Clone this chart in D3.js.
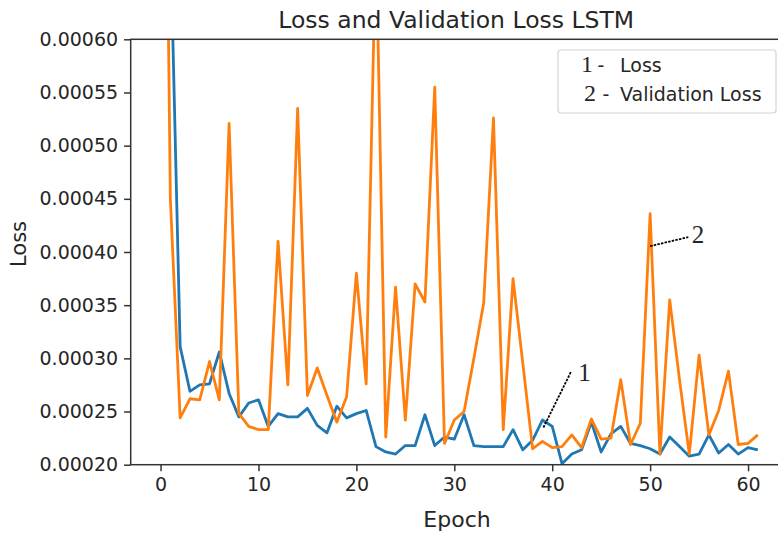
<!DOCTYPE html>
<html>
<head>
  <meta charset="utf-8">
  <title>Loss and Validation Loss LSTM</title>
  <script src="https://d3js.org/d3.v7.min.js"></script>
  <style>
    body { margin: 0; background: #fff; }
    text { font-family: "DejaVu Sans", sans-serif; fill: #262626; }
  </style>
</head>
<body>
<script>
// values, one per epoch (0..61)
var loss = [0.0021, 0.0007, 0.000311, 0.000269, 0.000275, 0.000276, 0.000306, 0.000267, 0.000245, 0.000258,
            0.000261, 0.000236, 0.000248, 0.000245, 0.000245, 0.000253, 0.000237, 0.00023, 0.000255, 0.000244,
            0.000248, 0.000251, 0.000217, 0.000212, 0.00021, 0.000218, 0.000218, 0.000247, 0.000218, 0.000226,
            0.000224, 0.000247, 0.000218, 0.000217, 0.000217, 0.000217, 0.000233, 0.000214, 0.000223, 0.000242,
            0.000236, 0.000201, 0.00021, 0.000214, 0.00024, 0.000212, 0.000229, 0.000236, 0.00022, 0.000218,
            0.000215, 0.00021, 0.000226, 0.000217, 0.000208, 0.00021, 0.000228, 0.000211, 0.000219, 0.00021,
            0.000216, 0.000214];
var valLoss = [0.00125, 0.00045, 0.000244, 0.000262, 0.000261, 0.000297, 0.000261, 0.000521, 0.000248, 0.000236,
               0.000233, 0.000233, 0.00041, 0.000275, 0.000535, 0.000265, 0.000291, 0.000265, 0.00024, 0.000264,
               0.00038, 0.000276, 0.0007, 0.000226, 0.000367, 0.000242, 0.00037, 0.000353, 0.000555, 0.00022,
               0.000242, 0.00025, 0.0003, 0.000352, 0.000526, 0.000233, 0.000375, 0.000295, 0.000215, 0.000222,
               0.000216, 0.000217, 0.000228, 0.000216, 0.000243, 0.000224, 0.000225, 0.00028, 0.000219, 0.000239,
               0.000436, 0.00021, 0.000355, 0.00028, 0.00021, 0.000303, 0.000228, 0.000251, 0.000288, 0.000219,
               0.00022, 0.000228];

var xTicks = [0, 10, 20, 30, 40, 50, 60];
var yTicks = [0.0002, 0.00025, 0.0003, 0.00035, 0.0004, 0.00045, 0.0005, 0.00055, 0.0006];
var legendNums = ["1", "2"];
var legendLabels = ["Loss", "Validation Loss"];
// callouts: point on the line, end of the dashed leader, number label (data coords)
var callouts = [
  { num: "1", from: [39.1, 0.000235], to: [41.9, 0.000287], text: [43.3, 0.000279] },
  { num: "2", from: [50.0, 0.0004055], to: [53.9, 0.000414], text: [54.9, 0.000408] }
];

var W = 778, H = 535;
var pLeft = 130.7, pRight = 787.7, pTop = 39.3, pBottom = 464.7;

var svg = d3.select("body").append("svg")
    .attr("width", W)
    .attr("height", H);

// matplotlib style 5% margins on x
var x = d3.scaleLinear().domain([-3.05, 64.05]).range([pLeft, pRight]);
var y = d3.scaleLinear().domain([0.0002, 0.0006]).range([pBottom, pTop]);

svg.append("clipPath").attr("id", "plot")
  .append("rect")
    .attr("x", pLeft).attr("y", pTop)
    .attr("width", pRight - pLeft).attr("height", pBottom - pTop);

var line = d3.line()
    .x(function(d, i) { return x(i); })
    .y(function(d) { return y(d); });

var g = svg.append("g").attr("clip-path", "url(#plot)");
g.append("path")
    .attr("d", line(loss))
    .attr("fill", "none")
    .attr("stroke", "#1f77b4")
    .attr("stroke-width", 2.8)
    .attr("stroke-linejoin", "round");
g.append("path")
    .attr("d", line(valLoss))
    .attr("fill", "none")
    .attr("stroke", "#ff7f0e")
    .attr("stroke-width", 2.8)
    .attr("stroke-linejoin", "round");

// axes
var xAxis = svg.append("g")
    .attr("transform", "translate(0," + pBottom + ")")
    .call(d3.axisBottom(x).tickValues(xTicks).tickSize(6.6).tickPadding(6));
var yAxis = svg.append("g")
    .attr("transform", "translate(" + pLeft + ",0)")
    .call(d3.axisLeft(y).tickValues(yTicks).tickFormat(d3.format(".5f")).tickSize(6.6).tickPadding(6));

[xAxis, yAxis].forEach(function(a) {
  a.select(".domain").remove();
  a.selectAll(".tick line").attr("stroke", "#333").attr("stroke-width", 1.5);
  a.selectAll(".tick text").style("font-size", "19px").attr("fill", "#333")
    .style("font-family", "'DejaVu Sans', sans-serif");
});

// spines
svg.append("rect")
    .attr("x", pLeft).attr("y", pTop)
    .attr("width", pRight - pLeft).attr("height", pBottom - pTop)
    .attr("fill", "none")
    .attr("stroke", "#333")
    .attr("stroke-width", 1.5);

// titles
svg.append("text")
    .attr("x", (pLeft + pRight) / 2 - 3).attr("y", 28)
    .attr("text-anchor", "middle")
    .style("font-size", "23.5px")
    .text("Loss and Validation Loss LSTM");
svg.append("text")
    .attr("x", 457).attr("y", 527)
    .attr("text-anchor", "middle")
    .style("font-size", "22px")
    .text("Epoch");
svg.append("text")
    .attr("transform", "translate(26,244) rotate(-90)")
    .attr("text-anchor", "middle")
    .style("font-size", "21px")
    .text("Loss");

// callouts with dashed leaders
callouts.forEach(function(c) {
  svg.append("line")
      .attr("x1", x(c.from[0])).attr("y1", y(c.from[1]))
      .attr("x2", x(c.to[0])).attr("y2", y(c.to[1]))
      .attr("stroke", "#000")
      .attr("stroke-width", 1.8)
      .attr("stroke-dasharray", "2.5,1.2");
  svg.append("text")
      .attr("x", x(c.text[0])).attr("y", y(c.text[1]))
      .attr("text-anchor", "middle")
      .style("font-family", "'Liberation Serif', serif")
      .style("font-size", "25px")
      .attr("fill", "#1a1a1a")
      .text(c.num);
});

// legend box
var legend = svg.append("g");
legend.append("rect")
    .attr("x", 558).attr("y", 50)
    .attr("width", 218).attr("height", 63)
    .attr("rx", 3)
    .attr("fill", "#fff")
    .attr("fill-opacity", 0.8)
    .attr("stroke", "#d4d4d4")
    .attr("stroke-width", 1.2);
legendLabels.forEach(function(lab, i) {
  var by = 72 + i * 29;
  legend.append("text")
      .attr("x", 587 + i * 3).attr("y", by)
      .attr("text-anchor", "middle")
      .style("font-family", "'Liberation Serif', serif")
      .style("font-size", "24px")
      .attr("fill", "#1a1a1a")
      .text(legendNums[i]);
  legend.append("text")
      .attr("x", 601 + i * 5).attr("y", by)
      .attr("text-anchor", "middle")
      .style("font-size", "19px")
      .text("-");
  legend.append("text")
      .attr("x", 620).attr("y", by)
      .style("font-size", "19px")
      .text(lab);
});
</script>
</body>
</html>
